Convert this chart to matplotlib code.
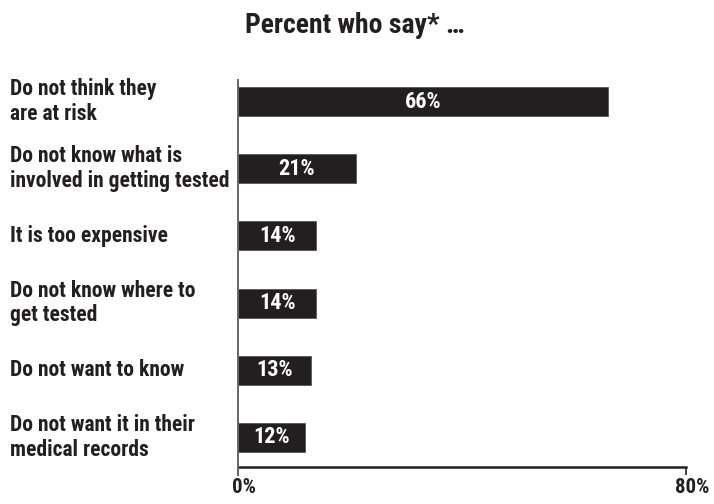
import matplotlib
matplotlib.use("Agg")
import matplotlib.pyplot as plt
from matplotlib import font_manager
from matplotlib.transforms import ScaledTranslation

reasons = [
    "Do not think they\nare at risk",
    "Do not know what is\ninvolved in getting tested",
    "It is too expensive",
    "Do not know where to\nget tested",
    "Do not want to know",
    "Do not want it in their\nmedical records",
]
percents = [66, 21, 14, 14, 13, 12]
tick_values = [0, 80]
tick_labels = ["0%", "80%"]
title = "Percent who say* \u2026"

# pick a condensed bold sans if one is installed
fonts = font_manager.fontManager.ttflist
candidates = ["Roboto Condensed", "Archivo Narrow", "Liberation Sans Narrow",
              "IBM Plex Sans Condensed", "Open Sans Condensed", "Sofia Sans Condensed"]
chosen = None
for c in candidates:
    if any(f.name == c and f.weight in (600, 700, "bold") for f in fonts):
        chosen = c
        break
if chosen is None:
    for c in candidates:
        if any(f.name == c for f in fonts):
            chosen = c
            break
family = ([chosen] if chosen else []) + ["DejaVu Sans"]
plt.rcParams["font.family"] = family

ink = "#231f20"

fig = plt.figure(figsize=(7.14, 5.04), dpi=100)
ax_left, ax_right, ax_top, ax_bottom = 238, 686, 80, 467
ax = fig.add_axes([ax_left / 714, (504 - ax_bottom) / 504,
                   (ax_right - ax_left) / 714, (ax_bottom - ax_top) / 504])

ypos = list(range(len(reasons)))
ax.barh(ypos, percents, height=0.43, color=ink, edgecolor="#555555", linewidth=0.6, zorder=2)
for y, v in zip(ypos, percents):
    ax.text(v / 2, y, f"{v}%", color="white", ha="center", va="center",
            fontsize=16, fontweight="bold", zorder=3)

label_x = (10 - ax_left) / (ax_right - ax_left)
for y, lab in zip(ypos, reasons):
    ax.text(label_x, y, lab, transform=ax.get_yaxis_transform(),
            ha="left", va="center", fontsize=15.5, fontweight="bold",
            color=ink, linespacing=1.15)

ax.set_xlim(0, 80)
ax.set_ylim(5.44, -0.32)
ax.set_yticks([])
ax.set_xticks(tick_values)
ax.set_xticklabels(tick_labels, fontsize=15, fontweight="bold", color=ink)
ax.tick_params(axis="x", length=6, width=1.2, color=ink, pad=2)
shift = ScaledTranslation(6 / 100, 0, fig.dpi_scale_trans)
for lbl in ax.get_xticklabels():
    lbl.set_transform(lbl.get_transform() + shift)

for s in ("top", "right", "left"):
    ax.spines[s].set_visible(False)
ax.spines["bottom"].set_color(ink)
ax.spines["bottom"].set_linewidth(1.8)
ax.plot([0, 0], [-0.02, 1.0], transform=ax.transAxes, color="#666666",
        linewidth=1.4, clip_on=False, zorder=4)

fig.text(355 / 714, 1 - 33 / 504, title, ha="center", va="baseline",
         fontsize=20, fontweight="bold", color=ink)

fig.savefig("out.png", dpi=100, facecolor="white")
